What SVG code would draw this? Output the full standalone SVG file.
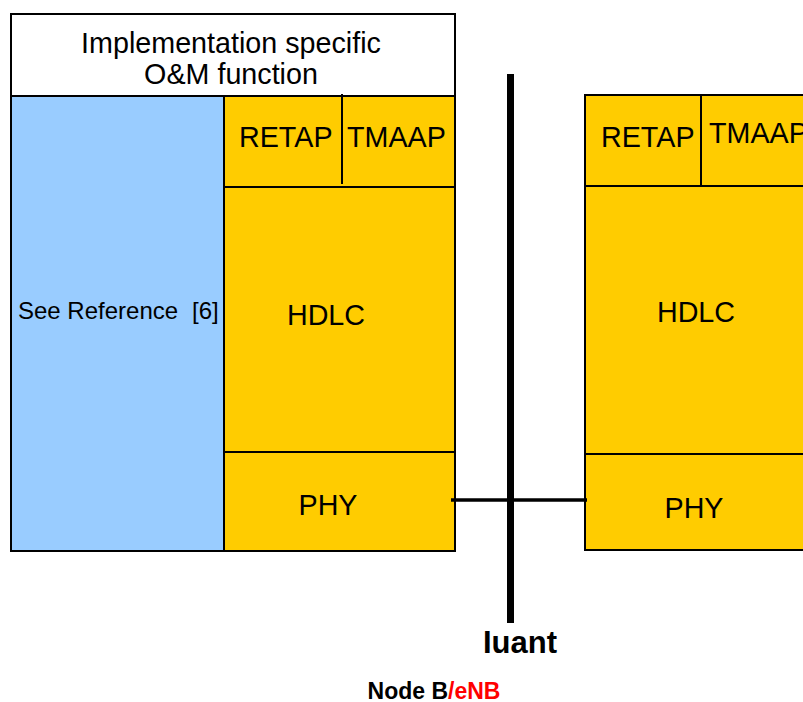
<svg xmlns="http://www.w3.org/2000/svg" width="803" height="702" viewBox="0 0 803 702">
<style>
.box{stroke:#000;stroke-width:2}
.y{fill:#FFCC00}
.b{fill:#99CCFF}
.w{fill:#fff}
.ln{stroke:#000;stroke-width:2;fill:none}
.t{font-family:"Liberation Sans",Arial,sans-serif;font-size:28.7px;fill:#000}
.s{font-family:"Liberation Sans",Arial,sans-serif;font-size:24px;fill:#000}
.bold{font-family:"Liberation Sans",Arial,sans-serif;font-weight:bold;fill:#000}
</style>
<rect width="803" height="702" fill="#fff"/>
<g id="om-function">
<rect class="box w" x="11" y="14" width="444" height="82"/>
<text class="t" x="231" y="53" text-anchor="middle" font-size="29">Implementation specific</text>
<text class="t" x="231" y="84" text-anchor="middle" font-size="29">O&amp;M function</text>
</g>
<g id="see-reference">
<rect class="box b" x="11" y="96" width="213" height="455"/>
<text class="s" x="18" y="319">See Reference</text>
<text class="s" x="192" y="319">[6]</text>
</g>
<g id="left-stack">
<rect class="box y" x="224" y="96" width="231" height="455"/>
<line class="ln" x1="342" y1="94" x2="342" y2="184"/>
<line class="ln" x1="224" y1="187" x2="455" y2="187"/>
<line class="ln" x1="224" y1="452" x2="455" y2="452"/>
<text class="t" x="239" y="147">RETAP</text>
<text class="t" x="347" y="147">TMAAP</text>
<text class="t" x="326" y="325" text-anchor="middle">HDLC</text>
<text class="t" x="328" y="515" text-anchor="middle">PHY</text>
</g>
<g id="right-stack">
<rect class="box y" x="585" y="95" width="230" height="455"/>
<line class="ln" x1="701" y1="95" x2="701" y2="185"/>
<line class="ln" x1="585" y1="186" x2="803" y2="186"/>
<line class="ln" x1="585" y1="454" x2="803" y2="454"/>
<text class="t" x="601" y="147">RETAP</text>
<text class="t" x="709" y="143">TMAAP</text>
<text class="t" x="696" y="322" text-anchor="middle">HDLC</text>
<text class="t" x="694" y="518" text-anchor="middle">PHY</text>
</g>
<g id="connectors">
<line x1="451" y1="500" x2="587" y2="500" stroke="#000" stroke-width="3.5"/>
<line x1="510.5" y1="74" x2="510.5" y2="623" stroke="#000" stroke-width="7"/>
</g>
<g id="labels">
<text class="bold" x="520" y="653" text-anchor="middle" font-size="31">Iuant</text>
<text class="bold" x="434" y="699" text-anchor="middle" font-size="23">Node B<tspan fill="#FF0000">/eNB</tspan></text>
</g>
</svg>
